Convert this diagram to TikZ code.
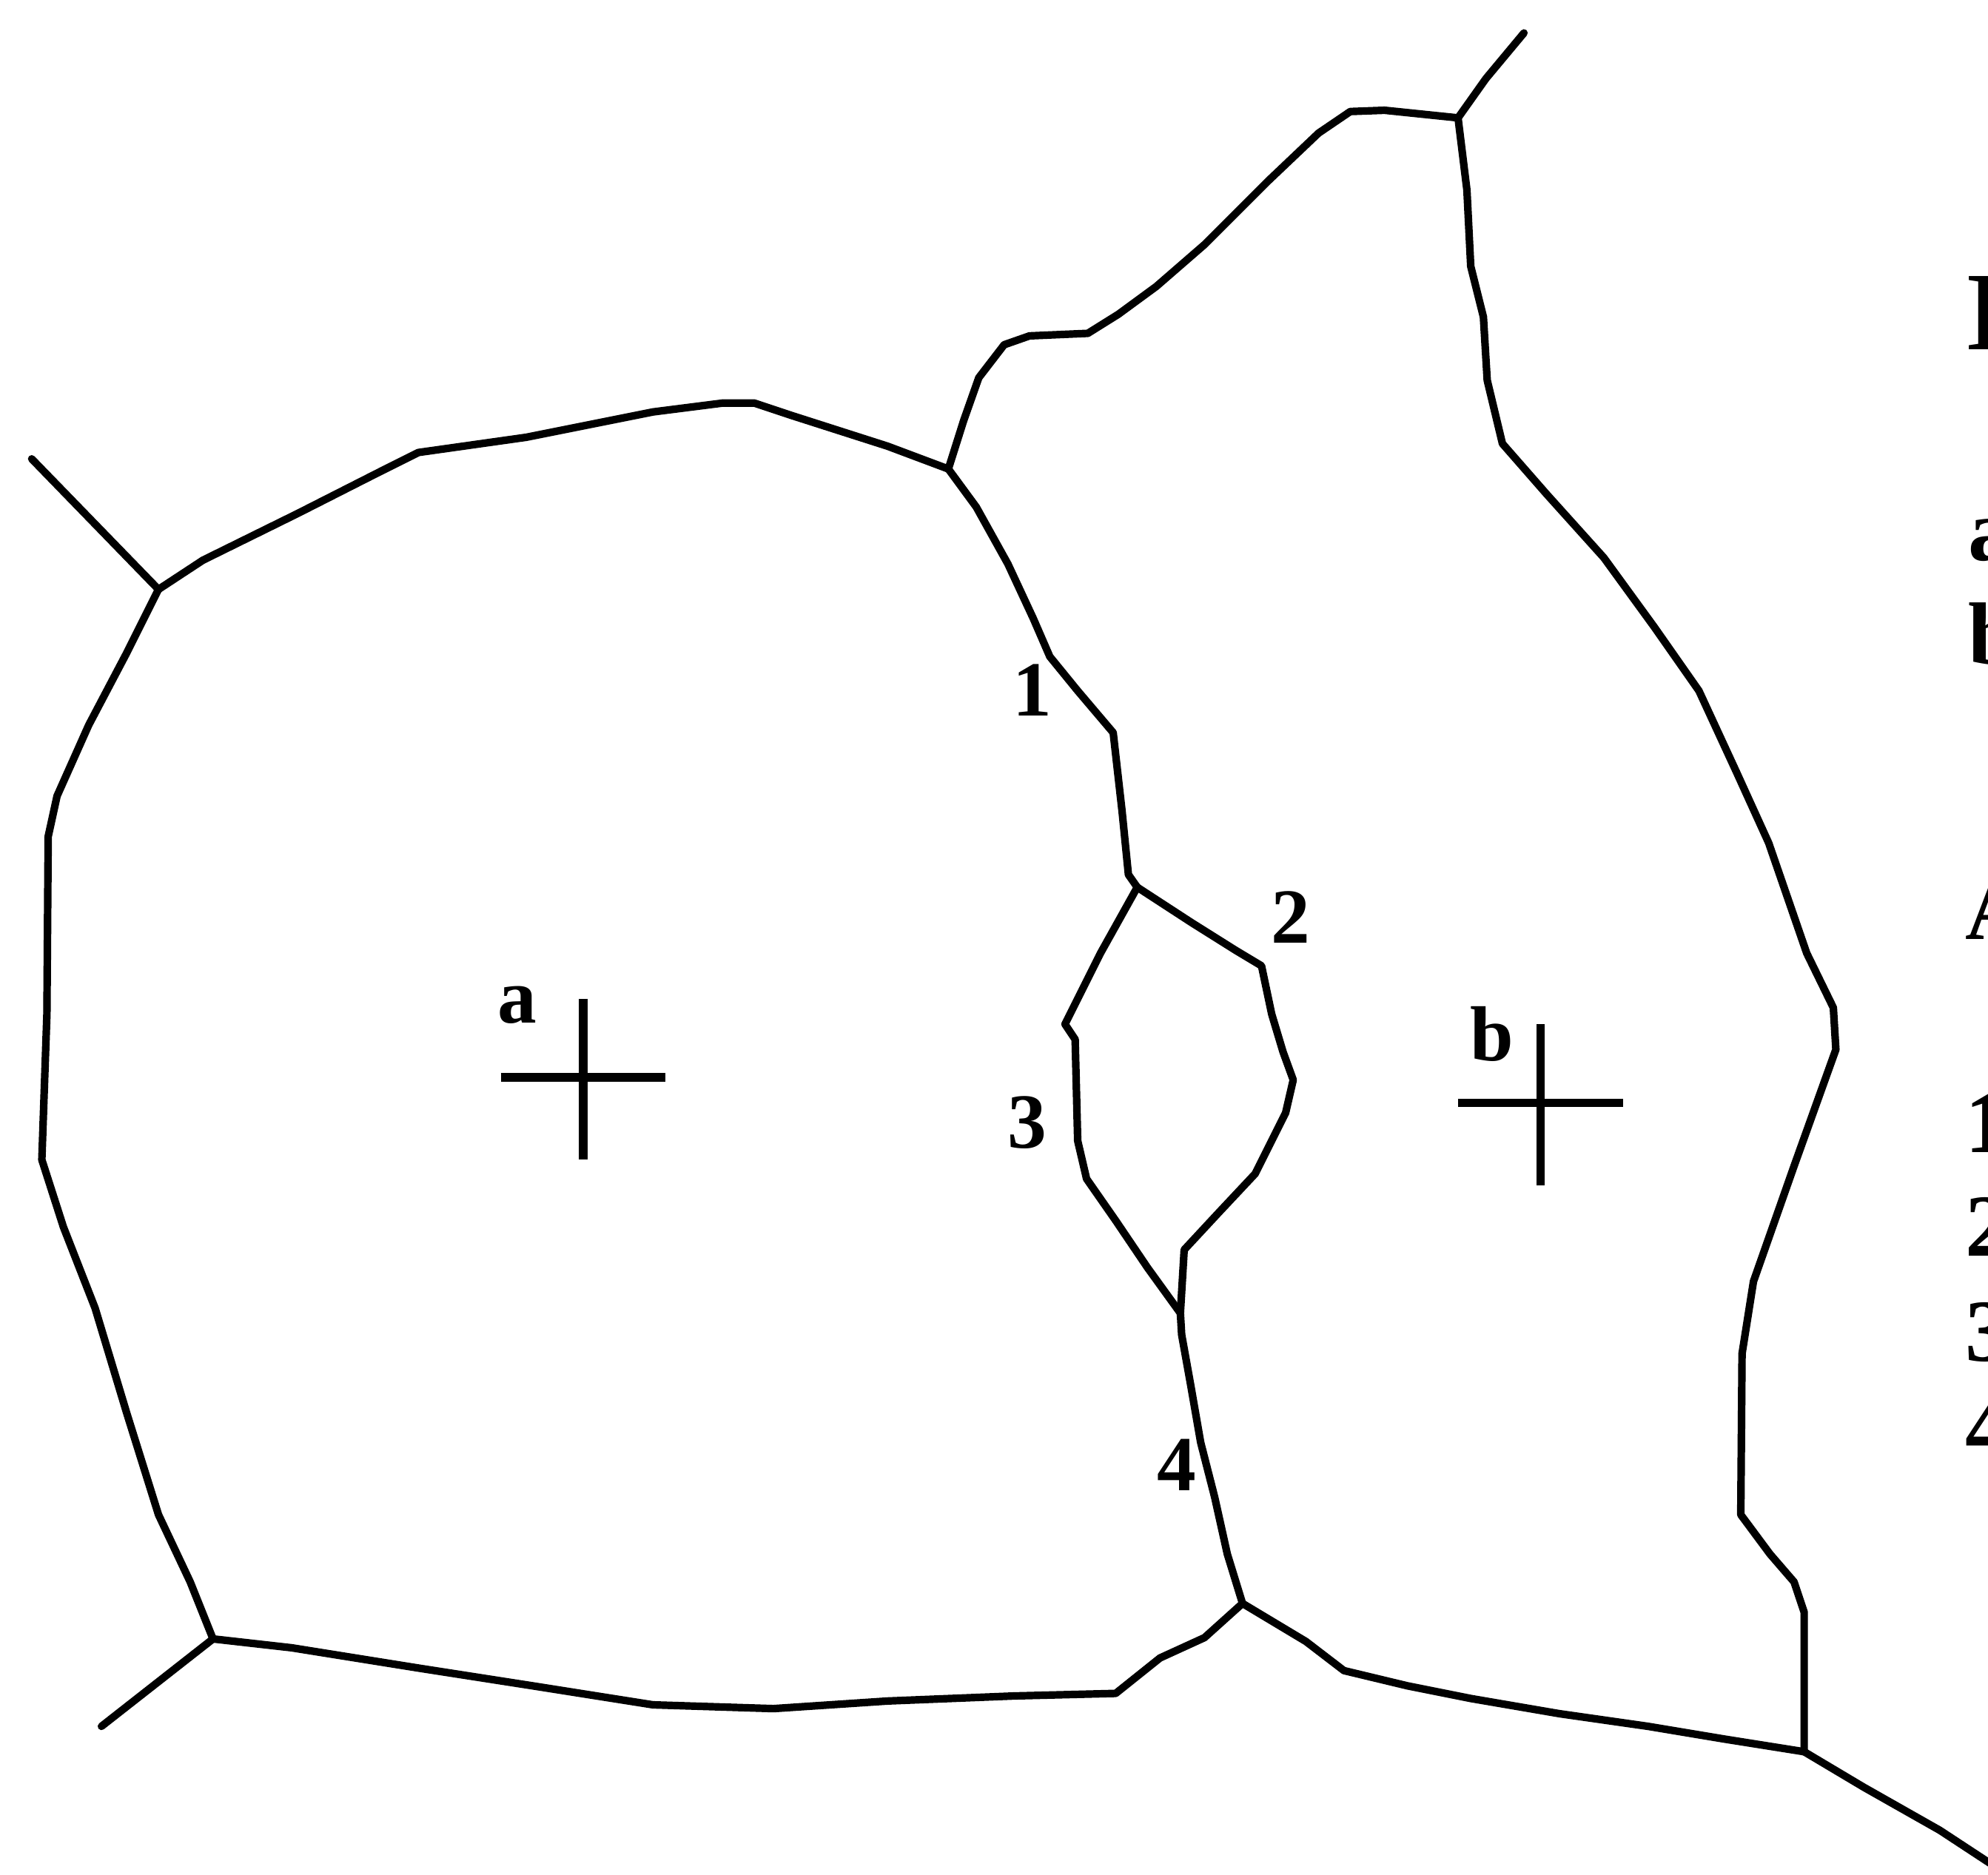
\documentclass[tikz,border=0pt]{standalone}
\usepackage{fontspec}
\setmainfont{Liberation Serif}
\usetikzlibrary{positioning}
\tikzset{
  gb/.style={line width=2.9pt, line join=round, line cap=round},
  crossbar/.style={line width=3.3pt},
  lbl/.style={inner sep=0pt, anchor=base, font=\fontsize{30}{36}\selectfont\bfseries},
  side/.style={inner sep=0pt, anchor=base west, font=\fontsize{34}{40}\selectfont\bfseries}
}
\begin{document}
\begin{tikzpicture}[x=0.1713mm, y=-0.1713mm]
  \useasboundingbox (0,0) rectangle (1568,1479);
  \clip (0,0) rectangle (1568,1479);
  \coordinate (j1) at (125,465);
  \coordinate (j2) at (748,370);
  \coordinate (j3) at (168,1293);
  \coordinate (j4) at (980,1265);
  \coordinate (j5) at (897,700);
  \coordinate (j6) at (931,1036);
  \coordinate (j7) at (1150,93);
  \coordinate (j8) at (1423,1382);
  \coordinate (e1) at (25,362);
  \coordinate (e2) at (80,1362);
  \coordinate (e3) at (1202,26);
  \coordinate (e4) at (1600,1490);
  \coordinate (ca) at (460,850);
  \coordinate (cb) at (1215,870);
  \draw[gb] (e1) -- (j1);
  \draw[gb] (j1) -- (160,442) -- (235,405) -- (300,372) -- (330,357) -- (415,345) -- (450,338) -- (515,325) -- (570,318) -- (595,318) -- (625,328) -- (700,352) -- (j2);
  \draw[gb] (j1) -- (100,515) -- (70,572) -- (45,628) -- (38,660) -- (37,800) -- (33,915) -- (50,968) -- (75,1032) -- (100,1115) -- (125,1195) -- (150,1248) -- (j3);
  \draw[gb] (j3) -- (e2);
  \draw[gb] (j3) -- (230,1300) -- (330,1316) -- (420,1330) -- (515,1345) -- (610,1348) -- (700,1342) -- (800,1338) -- (880,1336) -- (915,1308) -- (950,1292) -- (j4);
  \draw[gb] (j2) -- (770,400) -- (795,445) -- (815,488) -- (828,518) -- (850,545) -- (878,578) -- (885,640) -- (890,690) -- (j5);
  \draw[gb] (j5) -- (940,728) -- (975,750) -- (995,762) -- (1003,800) -- (1012,830) -- (1020,852) -- (1014,878) -- (990,926) -- (960,958) -- (934,986) -- (j6);
  \draw[gb] (j5) -- (868,752) -- (840,808) -- (848,820) -- (850,900) -- (857,930) -- (880,963) -- (905,1000) -- (j6);
  \draw[gb] (j6) -- (932,1053) -- (939,1092) -- (947,1138) -- (958,1181) -- (968,1226) -- (j4);
  \draw[gb] (j4) -- (1030,1295) -- (1060,1318) -- (1110,1330) -- (1160,1340) -- (1230,1352) -- (1300,1362) -- (1360,1372) -- (j8);
  \draw[gb] (j8) -- (1470,1410) -- (1530,1444) -- (e4);
  \draw[gb] (j2) -- (760,332) -- (772,298) -- (792,272) -- (812,265) -- (858,263) -- (882,248) -- (912,226) -- (950,193) -- (1000,143) -- (1040,105) -- (1065,88) -- (1092,87) -- (j7);
  \draw[gb] (j7) -- (1172,62) -- (e3);
  \draw[gb] (j7) -- (1157,150) -- (1160,210) -- (1170,250) -- (1173,300) -- (1185,350) -- (1220,390) -- (1265,440) -- (1305,495) -- (1340,545) -- (1370,610) -- (1395,665) -- (1425,752) -- (1446,795) -- (1448,828) -- (1415,920) -- (1383,1011) -- (1374,1068) -- (1373,1195) -- (1396,1226) -- (1415,1248) -- (1423,1272) -- (j8);
  \draw[crossbar] (ca) ++(-65,0) -- ++(130,0);
  \draw[crossbar] (ca) ++(0,-62) -- ++(0,127);
  \draw[crossbar] (cb) ++(-65,0) -- ++(130,0);
  \draw[crossbar] (cb) ++(0,-62) -- ++(0,127);
  \node[lbl] (la) at (408,807) {a};
  \node[lbl] (lb) at (1177,837) {b};
  \node[lbl] (l1) at (814,565) {1};
  \node[lbl] (l2) at (1018,744) {2};
  \node[lbl] (l3) at (810,906) {3};
  \node[lbl] (l4) at (928,1176) {4};
  \node[side, font=\fontsize{43}{50}\selectfont\bfseries] (ttl) at (1550,276) {I};
  \node[side] (ka) at (1552,442) {a};
  \node[side] (kb) at (1552,524) {b};
  \node[side] (kA) at (1550,741) {A};
  \node[side] (k1) at (1550,909) {1};
  \node[side] (k2) at (1550,991) {2};
  \node[side] (k3) at (1550,1074) {3};
  \node[side] (k4) at (1550,1150) {4};
\end{tikzpicture}
\end{document}
